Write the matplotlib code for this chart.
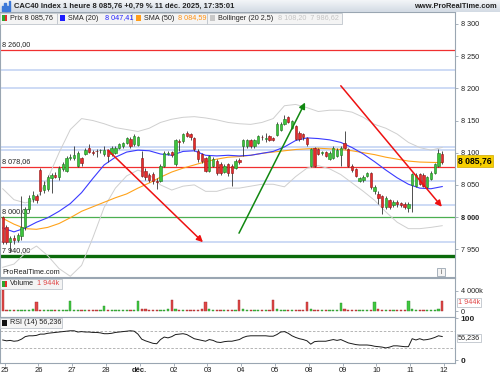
import matplotlib
matplotlib.use('Agg')
import matplotlib.pyplot as plt
from matplotlib.patches import Rectangle
import numpy as np

# ---------------- data ----------------
opens = [8000, 7985, 7961, 7968, 7965, 7970, 7985, 8013, 8028, 8033,
         8073, 8042, 8044, 8060, 8066, 8062, 8075, 8072, 8092,
         8092, 8080, 8092, 8098, 8108, 8101, 8103, 8104, 8098,
         8104, 8098, 8100, 8108, 8110, 8115, 8122, 8113, 8112,
         8092, 8072, 8066, 8067, 8056, 8056, 8080, 8098, 8101,
         8082, 8118, 8118, 8130, 8129, 8123, 8103, 8098, 8092,
         8072, 8080, 8087, 8083, 8070, 8082, 8080, 8077, 8088,
         8110, 8110, 8119, 8110, 8115, 8125, 8122, 8126, 8123,
         8128, 8135, 8145, 8155, 8139, 8141, 8131, 8129, 8123,
         8080, 8107, 8105, 8100, 8101, 8090, 8092, 8095, 8096,
         8115, 8105, 8080, 8074, 8056, 8058, 8064, 8069, 8040,
         8036, 8033, 8015, 8026, 8019, 8024, 8022, 8021, 8014,
         8050, 8048, 8067, 8066, 8046, 8059, 8069, 8080, 8098]
highs = [8002, 7988, 7970, 7972, 7975, 8033, 8016, 8035, 8040, 8036,
         8076, 8056, 8066, 8068, 8070, 8080, 8086, 8095, 8098,
         8110, 8102, 8094, 8107, 8113, 8104, 8105, 8106, 8110,
         8106, 8110, 8110, 8115, 8117, 8125, 8124, 8129, 8126,
         8103, 8076, 8068, 8070, 8060, 8082, 8102, 8103, 8103,
         8122, 8122, 8131, 8133, 8131, 8125, 8105, 8100, 8094,
         8097, 8094, 8090, 8086, 8083, 8084, 8082, 8090, 8092,
         8121, 8122, 8121, 8121, 8128, 8127, 8130, 8128, 8125,
         8147, 8147, 8158, 8157, 8151, 8143, 8133, 8131, 8125,
         8107, 8109, 8107, 8103, 8103, 8102, 8110, 8107, 8110,
         8133, 8107, 8082, 8076, 8063, 8066, 8070, 8070, 8050,
         8040, 8035, 8033, 8028, 8026, 8026, 8024, 8023, 8023,
         8069, 8068, 8069, 8068, 8064, 8071, 8084, 8105, 8102]
lows = [7958, 7958, 7946, 7958, 7962, 7965, 7980, 8010, 8024, 8022,
        8035, 8038, 8040, 8038, 8060, 8058, 8072, 8070, 8088,
        8088, 8078, 8080, 8096, 8100, 8097, 8094, 8100, 8095,
        8085, 8095, 8098, 8106, 8108, 8113, 8108, 8110, 8110,
        8062, 8058, 8054, 8052, 8044, 8054, 8078, 8096, 8094,
        8080, 8103, 8115, 8124, 8120, 8102, 8086, 8084, 8070,
        8070, 8078, 8066, 8066, 8068, 8064, 8049, 8075, 8083,
        8095, 8108, 8108, 8108, 8113, 8120, 8117, 8118, 8118,
        8126, 8133, 8143, 8146, 8137, 8120, 8118, 8120, 8110,
        8078, 8078, 8096, 8096, 8093, 8088, 8090, 8093, 8080,
        8106, 8078, 8070, 8062, 8054, 8055, 8062, 8044, 8036,
        8020, 8005, 8012, 8012, 8016, 8016, 8015, 8012, 8008,
        8008, 8046, 8050, 8047, 8044, 8057, 8067, 8078, 8083]
closes = [7962, 7962, 7967, 7964, 7972, 7985, 8013, 8030, 8034, 8026,
          8041, 8050, 8062, 8066, 8063, 8076, 8082, 8092, 8094,
          8097, 8100, 8084, 8104, 8101, 8100, 8102, 8104, 8104,
          8095, 8108, 8108, 8113, 8115, 8123, 8110, 8126, 8124,
          8064, 8062, 8058, 8056, 8054, 8080, 8100, 8100, 8096,
          8120, 8116, 8129, 8126, 8124, 8105, 8090, 8087, 8072,
          8095, 8090, 8069, 8068, 8080, 8068, 8068, 8087, 8085,
          8119, 8119, 8110, 8119, 8126, 8124, 8122, 8120, 8120,
          8145, 8145, 8153, 8148, 8149, 8122, 8122, 8124, 8113,
          8105, 8080, 8098, 8100, 8095, 8100, 8108, 8104, 8108,
          8108, 8080, 8073, 8064, 8061, 8063, 8068, 8046, 8046,
          8029, 8015, 8030, 8015, 8024, 8020, 8018, 8015, 8021,
          8067, 8066, 8052, 8049, 8062, 8069, 8082, 8100, 8085.76]
volumes = [4200,
           350, 250, 200, 220, 250, 300, 300, 420, 1900,
           330, 250, 200, 200, 210, 220, 260, 350, 1950,
           300, 230, 200, 180, 180, 200, 210, 260, 1000,
           300, 220, 200, 200, 200, 220, 250, 300, 2050,
           480, 400, 350, 320, 300, 280, 330, 380, 2200,
           450, 350, 280, 250, 260, 280, 320, 380, 1900,
           420, 300, 260, 250, 260, 280, 300, 350, 2200,
           430, 330, 270, 250, 260, 270, 300, 350, 2300,
           380, 300, 260, 240, 250, 270, 300, 350, 1800,
           420, 330, 270, 250, 250, 260, 280, 330, 1600,
           420, 360, 300, 260, 260, 280, 300, 350, 1800,
           400, 320, 280, 260, 260, 280, 300, 350, 2050,
           450, 350, 300, 280, 280, 300, 330, 420, 1944]
rsi = [48, 46, 47, 45, 46, 50, 56, 58, 58, 59,
       62, 62, 64, 65, 66, 67, 68, 69, 70,
       70, 67, 68, 67, 67, 66, 66, 65, 63,
       63, 64, 66, 67, 68, 69, 70, 69, 62,
       50, 46, 43, 40, 39, 49, 55, 53, 56,
       61, 62, 63, 61, 56, 51, 49, 47, 45,
       49, 47, 43, 42, 44, 45, 45, 47, 49,
       54, 57, 58, 58, 58, 58, 58, 57, 57,
       61, 67, 68, 64, 58, 54, 51, 49, 46,
       38, 44, 45, 45, 45, 47, 49, 47, 49,
       45, 41, 39, 37, 36, 36, 36, 35, 33,
       32, 31, 29, 31, 34, 34, 33, 32, 32,
       51, 48, 51, 48, 49, 51, 54, 58, 56.236]

# indicator lines read every 3 bars
ind_idx = list(range(0, 118, 3))
sma20 = [7983, 7977, 7983, 7992, 7999, 8009, 8021, 8038, 8060, 8081,
         8093, 8101, 8104, 8103, 8098, 8096, 8102, 8103, 8096, 8095,
         8096, 8095, 8096, 8099, 8102, 8109, 8119, 8123, 8122, 8120,
         8116, 8108, 8098, 8086, 8073, 8061, 8051, 8045, 8044, 8047.41]
sma50 = [7998, 7989, 7982, 7981, 7984, 7990, 7999, 8009, 8016, 8023,
         8030, 8036, 8045, 8053, 8062, 8070, 8076, 8081, 8086, 8090,
         8093, 8094, 8096, 8099, 8101, 8103, 8105, 8106, 8107, 8106,
         8105, 8103, 8100, 8097, 8093, 8090, 8087, 8085.5, 8085, 8084.59]
bb_up = [8044, 8027, 8022, 8027, 8060, 8100, 8136, 8153, 8150, 8145,
         8139, 8136, 8133, 8138, 8147, 8152, 8155, 8156, 8154, 8151,
         8147, 8145, 8144, 8147, 8153, 8173, 8175, 8170, 8164, 8166,
         8166, 8163, 8155, 8144, 8138, 8129, 8116, 8108, 8104, 8108.20]
bb_lo = [7922, 7927, 7944, 7955, 7940, 7920, 7908, 7925, 7968, 8015,
         8045, 8064, 8073, 8066, 8050, 8042, 8048, 8050, 8040, 8040,
         8045, 8045, 8048, 8051, 8051, 8047, 8063, 8076, 8080, 8075,
         8066, 8053, 8040, 8026, 8008, 7992, 7982, 7982, 7984, 7986.62]

day_labels = ['25', '26', '27', '28', 'déc.', '02', '03', '04', '05',
              '08', '09', '10', '11', '12']
day_first_bar = [1, 10, 19, 28, 37, 46, 55, 64, 73, 82, 91, 100, 109, 118]

red_levels = [8260.00, 8078.06]
green_level = 8000.00
dark_green_level = 7940.00
blue_levels = [8228, 8201, 8109, 8104, 8056, 8018.5, 7961]
level_labels = {8260.00: '8 260,00', 8078.06: '8 078,06', 8000.00: '8 000,00', 7940.00: '7 940,00'}

arrows_start = [(28.0, 8104), (62.9, 7975), (90.0, 8204)]
arrows_end = [(53.3, 7961), (80.5, 8178), (116.9, 8016)]
arrows_color = ['#ee1111', '#118811', '#ee1111']

price_ticks = [7950, 8000, 8050, 8100, 8150, 8200, 8250, 8300]

# ---------------- figure ----------------
plt.rcParams['font.family'] = ['Liberation Sans', 'DejaVu Sans']
W, H = 500, 375
fig = plt.figure(figsize=(5, 3.75), dpi=100)
fig.patch.set_facecolor('white')

def fx(x):
    return x / W

def fy(y):
    return 1 - y / H

FS = 5.2
TXT = '#222222'
BORDER = '#9aa6b2'

ax = fig.add_axes([0, fy(277), fx(455), (277 - 12) / H])
axv = fig.add_axes([0, fy(317), fx(455), (317 - 278) / H])
axr = fig.add_axes([0, fy(363), fx(455), (363 - 317) / H])

idx = np.arange(len(closes))
O = np.array(opens, float)
Hh = np.array(highs, float)
L = np.array(lows, float)
C = np.array(closes, float)
up = C >= O
XMIN, XMAX = -0.72, 120.4

for a in (ax, axv, axr):
    a.set_xlim(XMIN, XMAX)
    for s in a.spines.values():
        s.set_color(BORDER)
        s.set_linewidth(0.8)
    a.yaxis.tick_right()
    a.tick_params(axis='y', length=2.5, width=0.6, colors=BORDER, labelcolor=TXT,
                  labelsize=FS, pad=1.5)
    a.tick_params(axis='x', length=0, labelbottom=False)

# --- main price panel ---
ax.set_ylim(7906.9, 8318.6)
for lv in blue_levels:
    ax.axhline(lv, color='#c9d8f5', lw=1.3, zorder=1)
for lv in red_levels:
    ax.axhline(lv, color='#f03030', lw=0.9, zorder=2)
ax.axhline(green_level, color='#4caf50', lw=0.9, zorder=2)
ax.axhline(dark_green_level, color='#0b6b0b', lw=2.4, zorder=2)
for lv, lab in level_labels.items():
    ax.text(XMIN + 0.5, lv + 2.5, lab, fontsize=FS, color=TXT, va='bottom', ha='left', zorder=3)

ax.plot(ind_idx, bb_up, color='#cfcfcf', lw=0.7, zorder=3)
ax.plot(ind_idx, bb_lo, color='#cfcfcf', lw=0.7, zorder=3)
ax.plot(ind_idx, sma50, color='#ffa31a', lw=0.8, zorder=4)
ax.plot(ind_idx, sma20, color='#3a3aff', lw=0.8, zorder=4)

ax.vlines(idx, L, Hh, color='#333333', lw=0.6, zorder=5)
body_col = np.where(up, '#3cc43c', '#e52b2b')
edge_col = np.where(up, '#1f7a1f', '#8e1515')
body_h = np.maximum(np.abs(C - O), 0.9)
ax.bar(idx, body_h, bottom=np.minimum(O, C), width=0.62, color=body_col,
       edgecolor=edge_col, linewidth=0.4, zorder=6)

for (sx, sy), (ex, ey), col in zip(arrows_start, arrows_end, arrows_color):
    ax.annotate('', xy=(ex, ey), xytext=(sx, sy),
                arrowprops=dict(arrowstyle='-|>', color=col, lw=1.1,
                                mutation_scale=9, shrinkA=0, shrinkB=0), zorder=7)

ax.set_yticks(price_ticks)
ax.set_yticklabels([f'{v:,}'.replace(',', ' ') for v in price_ticks])
for t in ax.get_yticklabels():
    if t.get_text() == '8 000':
        t.set_fontweight('bold')

# --- volume panel ---
axv.set_ylim(-1100, 6500)
vcol = np.where(up, '#40c840', '#e04848')
vedge = np.where(up, '#2a8a2a', '#a02828')
axv.bar(idx, volumes, width=0.6, color=vcol, edgecolor=vedge, linewidth=0.3)
axv.set_yticks([0, 4000])
axv.set_yticklabels(['0', '4 000k'])

# --- RSI panel ---
axr.set_ylim(-7, 102.9)
axr.axhline(70, color='#aaaaaa', lw=0.6, ls=(0, (3, 2)))
axr.axhline(30, color='#aaaaaa', lw=0.6, ls=(0, (3, 2)))
axr.plot(idx, rsi, color='#1a1a1a', lw=0.7)
axr.set_yticks([0, 100])
axr.set_yticklabels(['0', '100'])
for t in axr.get_yticklabels():
    t.set_fontsize(FS + 0.8)
    t.set_fontweight('bold')
tick_pos = [b - 0.5 for b in day_first_bar]
axr.set_xticks(tick_pos)
axr.set_xticklabels(day_labels)
axr.tick_params(axis='x', length=2, width=0.6, colors=BORDER, labelcolor=TXT,
                labelsize=FS + 0.3, labelbottom=True, pad=0.8)
for t in axr.get_xticklabels():
    if t.get_text() == 'déc.':
        t.set_fontweight('bold')

# ---------------- header ----------------
hax = fig.add_axes([0, fy(12), 1, 12 / H])
grad = np.linspace(0, 1, 20).reshape(-1, 1)
hax.imshow(grad, aspect='auto', cmap=matplotlib.colors.LinearSegmentedColormap.from_list(
    'h', ['#f3f5f8', '#d3dbe4']), extent=[0, 1, 0, 1])
hax.set_axis_off()
for i, hgt in enumerate([4, 7, 5, 9]):
    fig.patches.append(Rectangle((fx(2 + i * 2.2), fy(10.5)), 1.3 / W, hgt / H,
                                 transform=fig.transFigure, color='#3b78d8'))
fig.text(fx(14), fy(6), 'CAC40 Index 1 heure 8 085,76 +0,79 % 11 déc. 2025, 17:35:01',
         fontsize=FS + 0.3, fontweight='bold', color=TXT, va='center', ha='left')
fig.text(fx(497), fy(6), 'www.ProRealTime.com', fontsize=FS + 0.2, fontweight='bold',
         color=TXT, va='center', ha='right')

# legend row
def box(x0, x1, y0, y1, fc='#f4f4f4', ec='#bfc5cc'):
    fig.patches.append(Rectangle((fx(x0), fy(y1)), (x1 - x0) / W, (y1 - y0) / H,
                                 transform=fig.transFigure, facecolor=fc, edgecolor=ec,
                                 linewidth=0.6, zorder=10))

def sq(x, y, col, col2=None):
    fig.patches.append(Rectangle((fx(x), fy(y + 3)), 5 / W, 6 / H, transform=fig.transFigure,
                                 facecolor=col, edgecolor='none', zorder=11))
    if col2:
        fig.patches.append(Rectangle((fx(x + 2.5), fy(y + 3)), 2.5 / W, 6 / H,
                                     transform=fig.transFigure, facecolor=col2,
                                     edgecolor='none', zorder=11))

LY = 18
box(0, 57, 12.5, 23.5)
sq(2, LY, '#2ea62e', '#e52b2b')
fig.text(fx(10), fy(LY), 'Prix 8 085,76', fontsize=FS, color=TXT, va='center', zorder=12)
box(57, 132, 12.5, 23.5)
sq(60, LY, '#1d1dff')
fig.text(fx(68), fy(LY), 'SMA (20)', fontsize=FS, color=TXT, va='center', zorder=12)
fig.text(fx(105), fy(LY), '8 047,41', fontsize=FS, color='#2020ff', va='center', zorder=12)
box(132, 207, 12.5, 23.5)
sq(136, LY, '#ff9d1a')
fig.text(fx(144), fy(LY), 'SMA (50)', fontsize=FS, color=TXT, va='center', zorder=12)
fig.text(fx(178), fy(LY), '8 084,59', fontsize=FS, color='#ff9010', va='center', zorder=12)
box(207, 342, 12.5, 23.5)
sq(210, LY, '#c8c8c8')
fig.text(fx(218), fy(LY), 'Bollinger (20 2,5)', fontsize=FS, color=TXT, va='center', zorder=12)
fig.text(fx(278), fy(LY), '8 108,20  7 986,62', fontsize=FS, color='#c4c4c4', va='center', zorder=12)

# price tag
fig.text(fx(458), fy(161), '8 085,76', fontsize=FS + 1.0, fontweight='bold', color='black',
         va='center', ha='left', zorder=12,
         bbox=dict(boxstyle='square,pad=0.12', facecolor='#f7cf00', edgecolor='#d0a800', lw=0.5))

# footer of main panel
fig.text(fx(2), fy(273), 'ProRealTime.com', fontsize=FS, color=TXT, va='center', ha='left')
box(437, 445, 268, 276, fc='#f4f4f4', ec='#9aa6b2')
fig.text(fx(441), fy(272), 'i', fontsize=FS - 0.5, color='#555555', va='center', ha='center', zorder=12)

# volume legend
box(0, 62, 278.5, 289)
sq(2, 283.7, '#2ea62e', '#e52b2b')
fig.text(fx(10), fy(283.7), 'Volume', fontsize=FS, color=TXT, va='center', zorder=12)
fig.text(fx(37), fy(283.7), '1 944k', fontsize=FS, color='#e04848', va='center', zorder=12)
fig.text(fx(458), fy(302.5), '1 944k', fontsize=FS, color='#e04848', va='center', ha='left', zorder=12,
         bbox=dict(boxstyle='square,pad=0.12', facecolor='white', edgecolor='#b0b8c0', lw=0.5))

# RSI legend
box(0, 62, 317.5, 328)
sq(2, 322.7, '#111111')
fig.text(fx(10), fy(322.7), 'RSI (14) 56,236', fontsize=FS, color=TXT, va='center', zorder=12)
fig.text(fx(458), fy(338), '56,236', fontsize=FS, color=TXT, va='center', ha='left', zorder=12,
         bbox=dict(boxstyle='square,pad=0.12', facecolor='white', edgecolor='#b0b8c0', lw=0.5))

fig.savefig('out.png', dpi=100)
